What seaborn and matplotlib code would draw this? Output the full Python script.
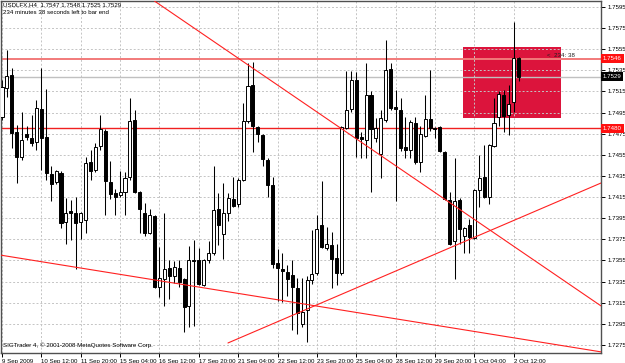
import matplotlib
matplotlib.use("Agg")
import matplotlib.pyplot as plt
from matplotlib.patches import Rectangle
import seaborn as sns
import pandas as pd
import numpy as np

# ---- data (USDLFX H4 candles) ----
opens = [1.7491, 1.7518, 1.7531, 1.7477, 1.7453, 1.7475, 1.7471, 1.7467, 1.7498, 1.7472,
         1.7437, 1.7429, 1.7438, 1.7391, 1.7402, 1.7400, 1.7391, 1.7393, 1.7448, 1.7441,
         1.7463, 1.7478, 1.7429, 1.7419, 1.7417, 1.7420, 1.7434, 1.7488, 1.7420, 1.7400,
         1.7381, 1.7397, 1.7330, 1.7337, 1.7348, 1.7340, 1.7348, 1.7337, 1.7312, 1.7355,
         1.7355, 1.7332, 1.7355, 1.7362, 1.7404, 1.7380, 1.7400, 1.7413, 1.7408, 1.7431,
         1.7487, 1.7521, 1.7481, 1.7474, 1.7450, 1.7426, 1.7353, 1.7347, 1.7344, 1.7341,
         1.7329, 1.7295, 1.7308, 1.7336, 1.7343, 1.7389, 1.7367, 1.7370, 1.7357, 1.7343,
         1.7480, 1.7498, 1.7526, 1.7472, 1.7469, 1.7512, 1.7471, 1.7456, 1.7488, 1.7536,
         1.7500, 1.7497, 1.7462, 1.7460, 1.7485, 1.7448, 1.7473, 1.7489, 1.7480, 1.7481,
         1.7458, 1.7412, 1.7373, 1.7412, 1.7378, 1.7389, 1.7376, 1.7422, 1.7434, 1.7415,
         1.7463, 1.7491, 1.7512, 1.7493, 1.7505, 1.7547]
highs = [1.7526, 1.7554, 1.7537, 1.7483, 1.7496, 1.7482, 1.7493, 1.7507, 1.7537, 1.7517,
         1.7444, 1.7441, 1.7440, 1.7414, 1.7412, 1.7415, 1.7401, 1.7453, 1.7460, 1.7466,
         1.7493, 1.7479, 1.7449, 1.7423, 1.7440, 1.7439, 1.7509, 1.7497, 1.7421, 1.7409,
         1.7404, 1.7398, 1.7368, 1.7400, 1.7355, 1.7354, 1.7355, 1.7338, 1.7369, 1.7374,
         1.7367, 1.7356, 1.7373, 1.7444, 1.7419, 1.7428, 1.7419, 1.7434, 1.7433, 1.7504,
         1.7542, 1.7543, 1.7482, 1.7475, 1.7452, 1.7434, 1.7366, 1.7362, 1.7351, 1.7355,
         1.7338, 1.7338, 1.7340, 1.7384, 1.7398, 1.7430, 1.7387, 1.7382, 1.7371, 1.7482,
         1.7534, 1.7534, 1.7533, 1.7477, 1.7542, 1.7515, 1.7490, 1.7497, 1.7564, 1.7542,
         1.7516, 1.7509, 1.7491, 1.7488, 1.7491, 1.7482, 1.7512, 1.7535, 1.7481, 1.7482,
         1.7459, 1.7420, 1.7452, 1.7414, 1.7387, 1.7394, 1.7423, 1.7455, 1.7464, 1.7465,
         1.7509, 1.7515, 1.7516, 1.7521, 1.7581, 1.7548]
lows = [1.7488, 1.7510, 1.7461, 1.7428, 1.7450, 1.7469, 1.7463, 1.7460, 1.7441, 1.7431,
        1.7411, 1.7427, 1.7386, 1.7371, 1.7374, 1.7347, 1.7375, 1.7381, 1.7431, 1.7439,
        1.7460, 1.7398, 1.7413, 1.7398, 1.7415, 1.7398, 1.7431, 1.7419, 1.7381, 1.7378,
        1.7380, 1.7329, 1.7320, 1.7312, 1.7318, 1.7334, 1.7330, 1.7287, 1.7292, 1.7293,
        1.7332, 1.7331, 1.7353, 1.7360, 1.7370, 1.7356, 1.7392, 1.7406, 1.7406, 1.7430,
        1.7485, 1.7458, 1.7467, 1.7444, 1.7415, 1.7348, 1.7317, 1.7316, 1.7321, 1.7289,
        1.7285, 1.7292, 1.7278, 1.7333, 1.7341, 1.7367, 1.7365, 1.7329, 1.7332, 1.7341,
        1.7479, 1.7496, 1.7453, 1.7452, 1.7452, 1.7420, 1.7467, 1.7433, 1.7486, 1.7497,
        1.7411, 1.7459, 1.7452, 1.7452, 1.7446, 1.7439, 1.7472, 1.7478, 1.7471, 1.7458,
        1.7412, 1.7370, 1.7337, 1.7371, 1.7362, 1.7362, 1.7375, 1.7406, 1.7414, 1.7408,
        1.7462, 1.7482, 1.7477, 1.7474, 1.7496, 1.7525]
closes = [1.7519, 1.7530, 1.7476, 1.7453, 1.7469, 1.7472, 1.7466, 1.7499, 1.7471, 1.7438,
          1.7427, 1.7440, 1.7390, 1.7400, 1.7400, 1.7390, 1.7400, 1.7447, 1.7440, 1.7462,
          1.7479, 1.7430, 1.7418, 1.7415, 1.7420, 1.7433, 1.7487, 1.7420, 1.7404, 1.7381,
          1.7398, 1.7330, 1.7338, 1.7347, 1.7340, 1.7349, 1.7335, 1.7311, 1.7355, 1.7354,
          1.7333, 1.7355, 1.7362, 1.7403, 1.7389, 1.7400, 1.7414, 1.7407, 1.7431, 1.7487,
          1.7520, 1.7482, 1.7475, 1.7451, 1.7426, 1.7352, 1.7348, 1.7345, 1.7337, 1.7330,
          1.7305, 1.7306, 1.7336, 1.7342, 1.7385, 1.7368, 1.7371, 1.7356, 1.7343, 1.7481,
          1.7497, 1.7526, 1.7471, 1.7470, 1.7512, 1.7479, 1.7480, 1.7490, 1.7535, 1.7499,
          1.7498, 1.7461, 1.7460, 1.7486, 1.7448, 1.7475, 1.7489, 1.7480, 1.7479, 1.7459,
          1.7413, 1.7371, 1.7411, 1.7385, 1.7386, 1.7377, 1.7422, 1.7433, 1.7415, 1.7464,
          1.7485, 1.7513, 1.7492, 1.7503, 1.7547, 1.7529]

x_tick_bars = [0, 8, 16, 24, 32, 40, 48, 56, 64, 72, 80, 88, 96, 104]
x_tick_labels = ["9 Sep 2009", "10 Sep 12:00", "11 Sep 20:00", "15 Sep 04:00", "16 Sep 12:00",
                 "17 Sep 20:00", "21 Sep 04:00", "22 Sep 12:00", "23 Sep 20:00", "25 Sep 04:00",
                 "28 Sep 12:00", "29 Sep 20:00", "1 Oct 04:00", "2 Oct 12:00"]
y_tick_values = [1.7275, 1.7295, 1.7315, 1.7335, 1.7355, 1.7375, 1.7395, 1.7415, 1.7435,
                 1.7455, 1.7475, 1.7495, 1.7515, 1.7535, 1.7555, 1.7575, 1.7595]
y_tick_labels = ["1.7275", "1.7295", "1.7315", "1.7335", "1.7355", "1.7375", "1.7395", "1.7415",
                 "1.7435", "1.7455", "1.7475", "1.7495", "1.7515", "1.7535", "1.7555", "1.7575",
                 "1.7595"]

# objects on chart
level_high = 1.7546
level_low = 1.7480
bid = 1.7529
trend_down_a = [(30.7, 1.76016), (121.75, 1.73119)]
trend_down_b = [(-0.41, 1.73601), (76.83, 1.73021)]
trend_up = [(45.93, 1.72768), (121.75, 1.74283)]
rect_bars = (93.75, 113.55)
rect_prices = (1.7490, 1.7557)
rect_label = "<  234: 38"
header1 = "USDLFX,H4  1.7547 1.7548 1.7525 1.7529"
header2 = "234 minutes 38 seconds left to bar end"
footer = "SIGTrader 4, \u00a9 2001-2008 MetaQuotes Software Corp."

# ---- style ----
sns.set_style("white")
plt.rcParams['font.family'] = ['Liberation Sans', 'DejaVu Sans']
FS = 4.4

df = pd.DataFrame({"o": opens, "h": highs, "l": lows, "c": closes})
df["i"] = np.arange(len(df))
df["up"] = df["c"] >= df["o"]

fig = plt.figure(figsize=(6.25, 3.63), dpi=100)
ax = fig.add_axes([1 / 625, 10 / 363, 600 / 625, 352 / 363])
ax.set_xlim(-0.2, 121.75)
ax.set_ylim(1.72673, 1.76007)

# grid
ax.set_axisbelow(True)
ax.grid(True, color="#c4c4c4", linestyle=(0, (2, 2)), linewidth=0.7)

# background rectangle
ax.add_patch(Rectangle((rect_bars[0], rect_prices[0]), rect_bars[1] - rect_bars[0],
                       rect_prices[1] - rect_prices[0], facecolor="#DC143C",
                       edgecolor="none", zorder=0.3))

# horizontal lines
ax.axhline(bid, color="#c0c0c0", lw=1.0, zorder=1)
ax.axhline(level_high, color="#f27a7a", lw=1.4, zorder=1.1)
ax.axhline(level_low, color="#f02020", lw=1.0, zorder=1.1)

# candles
ax.vlines(df["i"], df["l"], df["h"], color="black", lw=0.75, zorder=2)
w = 0.62
minh = 0.00004
up = df[df["up"]]
dn = df[~df["up"]]
ax.bar(up["i"], np.maximum(up["c"] - up["o"], minh), bottom=up["o"], width=w,
       color="white", edgecolor="black", linewidth=0.7, zorder=3)
ax.bar(dn["i"], np.maximum(dn["o"] - dn["c"], minh), bottom=dn["c"], width=w,
       color="black", edgecolor="black", linewidth=0.7, zorder=3)

# trend lines
ax.axline(trend_down_a[0], trend_down_a[1], color="#ff2020", lw=0.8, zorder=4)
ax.axline(trend_down_b[0], trend_down_b[1], color="#ff2020", lw=0.8, zorder=4)
slope = (trend_up[1][1] - trend_up[0][1]) / (trend_up[1][0] - trend_up[0][0])
x_end = 130
ax.plot([trend_up[0][0], x_end], [trend_up[0][1], trend_up[0][1] + slope * (x_end - trend_up[0][0])],
        color="#ff2020", lw=0.8, zorder=4)

ax.text(110.8, 1.75495, rect_label, fontsize=FS, color="#202020", va="center", ha="left", zorder=5)

# axes
ax.yaxis.tick_right()
ax.set_yticks(y_tick_values)
ax.set_yticklabels(y_tick_labels)
ax.set_xticks(x_tick_bars)
ax.set_xticklabels(x_tick_labels, ha="left")
ax.tick_params(axis="y", right=True, length=3, width=0.7, pad=1.5, labelsize=FS, colors="black")
ax.tick_params(axis="x", bottom=True, length=3, width=0.7, pad=1, labelsize=FS, colors="black")
for s in ax.spines.values():
    s.set_color("#505050")
    s.set_linewidth(1.0)

ytr = ax.get_yaxis_transform()
for val, fc in [(level_high, "#ff1010"), (bid, "black"), (level_low, "#ff1010")]:
    ax.text(1.003, val, f"{val:.4f}", transform=ytr, ha="left", va="center", color="white",
            fontsize=FS, clip_on=False, zorder=10,
            bbox=dict(boxstyle="square,pad=0.3", fc=fc, ec="none"))

fig.text(3 / 625, 1 - 2.5 / 363, header1, fontsize=FS, va="top", ha="left", color="black")
fig.text(3 / 625, 1 - 10 / 363, header2, fontsize=FS, va="top", ha="left", color="black")
fig.text(3 / 625, 1 - 342 / 363, footer, fontsize=FS, va="top", ha="left", color="black")

fig.savefig("out.png", dpi=100)
